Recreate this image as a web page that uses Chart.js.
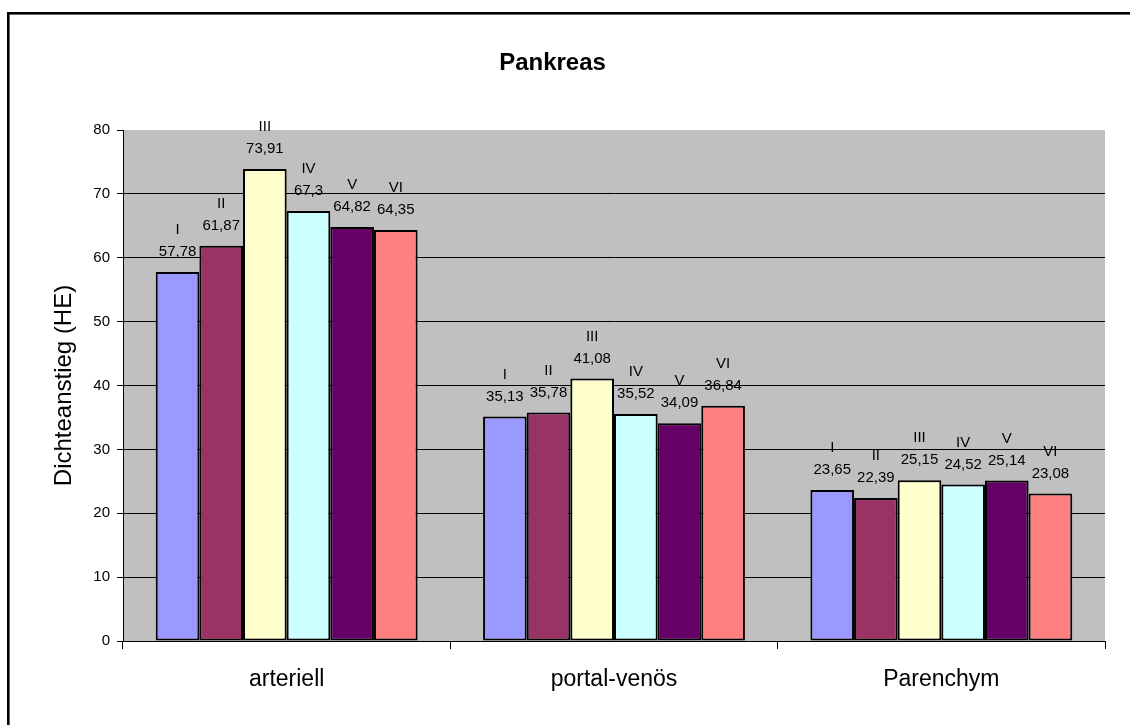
<!DOCTYPE html>
<html>
<head>
<meta charset="utf-8">
<title>Pankreas</title>
<script src="https://cdn.jsdelivr.net/npm/chart.js@4/dist/chart.umd.min.js"></script>
<style>
  html, body { margin: 0; padding: 0; background: #fff; }
  #wrap { width: 1130px; height: 725px; position: relative; }
</style>
</head>
<body>
<div id="wrap"><canvas id="c" width="1130" height="725"></canvas></div>
<script>
// Phases of contrast enhancement
const categories = ['arteriell', 'portal-venös', 'Parenchym'];

// Groups I–VI, density rise in HU per phase
const seriesNames = ['I', 'II', 'III', 'IV', 'V', 'VI'];
const seriesI   = [57.78, 35.13, 23.65];
const seriesII  = [61.87, 35.78, 22.39];
const seriesIII = [73.91, 41.08, 25.15];
const seriesIV  = [67.3, 35.52, 24.52];
const seriesV   = [64.82, 34.09, 25.14];
const seriesVI  = [64.35, 36.84, 23.08];
const seriesValues = [seriesI, seriesII, seriesIII, seriesIV, seriesV, seriesVI];

const seriesColors = ['#9999FF', '#993366', '#FFFFCC', '#CCFFFF', '#660066', '#FF8080'];

const yTicksMin = 0;
const yTicksMax = 80;
const yTicksStep = 10;

const FONT = "'Liberation Sans', Arial, sans-serif";
Chart.defaults.font.family = FONT;
Chart.defaults.color = '#000';

const fmt = v => String(v).replace('.', ',');

// White page, outer frame and grey plot area
const backdrop = {
  id: 'backdrop',
  beforeDraw(chart) {
    const { ctx, chartArea: a } = chart;
    ctx.save();
    ctx.fillStyle = '#fff';
    ctx.fillRect(0, 0, chart.width, chart.height);
    ctx.fillStyle = '#000';
    ctx.fillRect(7, 12, chart.width - 7, 2.6);
    ctx.fillRect(7, 12, 2.6, chart.height - 12);
    ctx.fillStyle = '#C0C0C0';
    ctx.fillRect(a.left, a.top, a.right - a.left, a.bottom - a.top);
    ctx.restore();
  }
};

// Two-line labels above each bar: group name, then value
const barLabels = {
  id: 'barLabels',
  afterDatasetsDraw(chart) {
    const { ctx } = chart;
    ctx.save();
    ctx.font = '15px ' + FONT;
    ctx.fillStyle = '#000';
    ctx.textAlign = 'center';
    ctx.textBaseline = 'middle';
    chart.data.datasets.forEach((ds, i) => {
      const meta = chart.getDatasetMeta(i);
      meta.data.forEach((bar, j) => {
        ctx.fillText(ds.label, bar.x, bar.y - 42);
        ctx.fillText(fmt(ds.data[j]), bar.x, bar.y - 20);
      });
    });
    ctx.restore();
  }
};

new Chart(document.getElementById('c'), {
  type: 'bar',
  data: {
    labels: categories,
    datasets: seriesNames.map((name, i) => ({
      label: name,
      data: seriesValues[i],
      backgroundColor: seriesColors[i],
      borderColor: '#000',
      borderWidth: 2,
      borderSkipped: false,
      categoryPercentage: 0.8,
      barPercentage: 1.0
    }))
  },
  options: {
    responsive: false,
    animation: false,
    devicePixelRatio: 1,
    layout: { padding: { left: 0, right: 25, top: 0, bottom: 0 } },
    plugins: {
      legend: { display: false },
      tooltip: { enabled: false },
      title: {
        display: true,
        text: 'Pankreas',
        color: '#000',
        font: { size: 24, weight: 'bold' },
        padding: { top: 48.5, bottom: 52.7 }
      }
    },
    scales: {
      x: {
        offset: true,
        grid: {
          offset: true,
          drawOnChartArea: false,
          drawTicks: true,
          tickLength: 8,
          color: '#000'
        },
        border: { color: '#000', width: 1 },
        ticks: { color: '#000', font: { size: 23 }, padding: 17 },
        afterFit(scale) { scale.height = 84; }
      },
      y: {
        min: yTicksMin,
        max: yTicksMax,
        ticks: { stepSize: yTicksStep, color: '#000', font: { size: 15 }, padding: 7 },
        grid: {
          color: c => (c.tick && c.tick.value === yTicksMax) ? 'rgba(0,0,0,0)' : '#000',
          tickColor: '#000',
          tickLength: 6,
          lineWidth: 1
        },
        border: { color: '#000', width: 1 },
        title: {
          display: true,
          text: 'Dichteanstieg (HE)',
          color: '#000',
          font: { size: 24 },
          padding: { top: 50, bottom: 0 }
        },
        afterFit(scale) { scale.width = 123; }
      }
    }
  },
  plugins: [backdrop, barLabels]
});
</script>
</body>
</html>
